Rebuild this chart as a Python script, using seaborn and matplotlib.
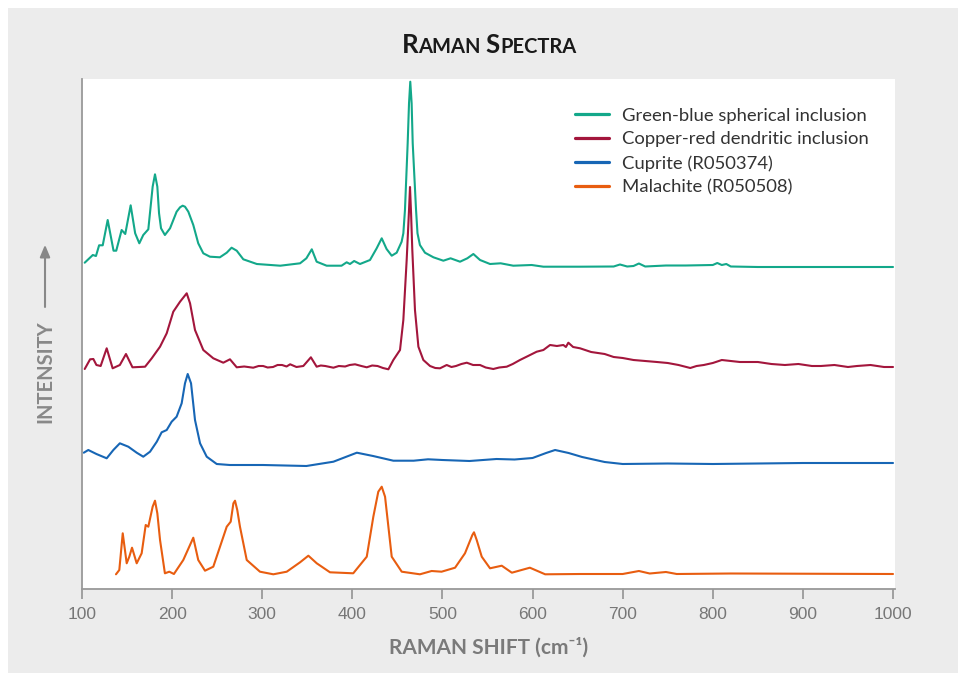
import matplotlib
matplotlib.use("Agg")
import numpy as np
import pandas as pd
import matplotlib.pyplot as plt
import seaborn as sns
from matplotlib.lines import Line2D
from matplotlib.patches import Rectangle
from matplotlib.offsetbox import TextArea, HPacker, AnchoredOffsetbox

# ---------- data ----------
labels = ["Green-blue spherical inclusion", "Copper-red dendritic inclusion",
          "Cuprite (R050374)", "Malachite (R050508)"]
colors = ["#13a88a", "#a3163c", "#1766b5", "#e85d10"]
offsets = [320, 220, 125, 15]   # vertical stacking of the spectra

green_shift = [103, 112, 115.5, 119, 123, 128.5, 135, 138, 144, 148, 154, 159, 163.6, 168,
               173.6, 178.4, 181, 183.6, 185.5, 187.7, 192, 197.7, 205, 208.8, 211.7, 214.3,
               218, 223.5, 229, 234.6, 242, 253,
               260.6, 266, 271.7, 279, 294, 320, 342, 349, 355, 360.4, 371.5, 388, 393.7,
               397.4, 402, 408.5, 419.6, 427, 432.6, 438, 443.7, 449.2, 454.7, 456.6, 458.4,
               461.4, 462.9, 464.3, 465.8, 467, 470.7, 472.3, 475, 480.6, 490, 501, 509,
               519.5, 527.6, 534.3, 541.7,
               552.8, 564.6, 578.6, 599, 612, 652.6, 690, 697, 705, 712, 718, 725, 748, 770,
               800, 805, 810, 815, 820, 850, 1000]
green_int = [6.3, 14, 13, 23.7, 23.7, 49, 18.3, 18.3, 39, 35, 63.7, 35.7, 25.7, 34,
             39.7, 82.3, 94.7, 82.3, 55.7, 40.7, 34, 40.7, 57.3, 61.7, 63.3, 62.3,
             57.3, 44, 25.7, 15.7, 12.3, 11.7,
             16.3, 21.3, 18.3, 9.7, 5, 3.3, 5.7, 10.7, 19.7, 7.3, 3.3, 3.3, 6.7,
             5, 8, 5, 9, 20.7, 30.7, 20, 13.3, 16.3, 27.3, 35.7, 59,
             125.7, 165.7, 187.3, 165.7, 125.7, 59, 35.7, 24, 16.3, 11.7, 8.3, 10.7,
             7.3, 10.7, 15, 9,
             5, 5.7, 3.3, 4, 2.3, 2.3, 2.5, 4.5, 2.5, 3, 5.5, 2.5, 3.5, 3.5,
             4, 6, 4, 5, 2.5, 2, 2]

red_shift = [103, 109, 112.6, 116, 120.7, 127.4, 134, 142, 148.8, 156, 170, 177.4, 186.6,
             194, 201.3, 208.8, 216.2, 219.9, 225.4, 234.6, 245.7, 256.8, 264.2, 271.7, 280,
             290, 296, 301, 306, 312, 317, 322, 327, 331, 338, 345.6, 354, 360.4, 365, 370,
             379, 385, 392, 397, 403, 410, 416, 422, 428, 434, 440,
             445.5, 452.9, 456.6, 460.3, 462.9, 464, 465.2, 466.5, 469.5, 473.3, 478.8,
             486.2, 492, 497.3, 504.7, 510, 515, 521, 527, 534, 541.7, 548, 556.4, 563,
             571.3, 578, 586, 595, 604.6, 612, 619.4, 627, 634.2, 637, 639.7, 645, 652.7,
             665, 680, 690, 700, 712, 725, 738, 750, 762, 775, 782, 790, 800, 810, 820, 830,
             840, 850, 865, 880, 895, 910, 920, 935, 950, 960, 975, 990, 1000]
red_int = [0, 9.7, 10, 4, 3, 20.7, 0.7, 4, 15, 1.7, 2.3, 10.7, 22.3,
           35.7, 57.3, 67.3, 75.7, 65.7, 39, 19, 10.7, 6.3, 9.7, 1.7, 2.5,
           1.3, 3, 3, 1.5, 2, 4, 4, 2.5, 4.7, 2, 3, 11.7, 2.3, 3.5, 3,
           1.3, 3, 2.5, 4, 4.7, 3, 1.7, 3.5, 3, 1, -0.3,
           9, 19, 49, 109, 159, 182, 155, 120, 59, 22.3, 9,
           3, 1, 0.7, 4, 2, 3, 5, 6.3, 4, 4, 1.5, 0, 1.5,
           2.3, 5, 9, 13, 17.3, 19, 24, 23, 24, 22, 26.3, 22, 20.7,
           17, 15, 12, 11, 9, 8, 7, 6, 4, 1, 3, 4, 6, 9, 8, 7,
           7, 7, 5, 4, 5, 3, 3, 4, 2, 3, 4, 2, 2]

blue_shift = [102, 107, 116, 127.4, 134.8, 142, 151.4, 160.7, 168, 175.5, 183, 188.4, 194,
              199.5, 205, 210.6, 214.3, 217.3, 221, 225.4, 231, 238.4, 249.5, 264, 301, 349,
              379, 405, 423, 445.5, 468, 484, 500, 530, 560, 580, 600, 615, 625, 640, 655,
              680, 700, 750, 800, 850, 900, 1000]
blue_int = [11.3, 14, 10, 5.7, 14, 20.7, 17.3, 11.3, 7.3, 12.3, 22.3, 31.7, 34,
            42.3, 47.3, 60.7, 80.7, 90, 80.7, 44, 20.7, 7.3, 0, -1, -1, -2,
            2.3, 11.3, 8, 3.3, 3.3, 4.7, 4, 3, 5, 4.5, 6, 11, 14, 11, 7,
            2, 0, 0.5, 0, 0.5, 1, 1]

orange_shift = [137.7, 141.4, 145.2, 149.6, 152.5, 155.5, 160.7, 166.2, 170.7, 173.6, 178.4,
                181, 183.6, 186.6, 192, 196.9, 202, 212.4, 223.5, 229, 236.5, 245.7, 260.6,
                265, 268, 269.8, 272.3, 275.3, 282.8, 297.5, 312.3, 327.2, 342, 351.2, 360.5,
                375.2, 401, 416, 423.3, 428.8, 432.6, 436.3, 440, 443.7, 454.8, 475, 488, 499,
                514, 525, 533.2, 535, 538, 543.6, 552.8,
                565.8, 577, 597, 614, 653, 700, 718, 730, 748, 760, 820, 1000]
orange_int = [-0.3, 4, 40.7, 10.7, 17.3, 26.3, 10.7, 20.7, 49, 47.3, 67.3,
              73.3, 60.7, 34, 0.7, 2.3, 0, 14, 36.3, 14, 3.3, 7.3, 47.3,
              52.3, 70.7, 73.3, 64, 47.3, 14, 2.3, -0.3, 2.3, 11.7, 18.3, 10.7,
              1.7, 0.7, 17.3, 57.3, 82.3, 87.3, 77.3, 47.3, 17.3, 2.3, -0.3, 3, 2.3,
              6.3, 20.7, 39, 41.7, 34, 17.3, 5.7,
              8.3, 1.3, 6.3, -0.3, 0, 0, 3, 0.5, 2, 0, 0.5, 0]

shifts = [green_shift, red_shift, blue_shift, orange_shift]
intensities = [green_int, red_int, blue_int, orange_int]

frames = []
for lab, sh, it, off in zip(labels, shifts, intensities, offsets):
    frames.append(pd.DataFrame({"sample": lab, "shift": sh,
                                "intensity": np.array(it) + off}))
df = pd.concat(frames, ignore_index=True)

# ---------- plot ----------
sns.set_theme(style="white")
plt.rcParams["font.family"] = ["Lato", "DejaVu Sans"]

fig = plt.figure(figsize=(9.58, 6.73), dpi=100)
fig.patches.append(Rectangle((8 / 958, 0), 1, 1 - 8 / 673, transform=fig.transFigure,
                             facecolor="#ececec", edgecolor="none", zorder=-10))
ax = fig.add_axes([82 / 958, 1 - 589 / 673, (895 - 82) / 958, (589 - 79) / 673])
ax.set_facecolor("white")

sns.lineplot(data=df, x="shift", y="intensity", hue="sample", palette=dict(zip(labels, colors)),
             estimator=None, sort=False, linewidth=1.5, legend=False, ax=ax)

ax.set_xlim(100, 1002.2)
ax.set_ylim(0, 510)
ax.set_xticks(range(100, 1001, 100))
ax.set_yticks([])
for s in ["top", "right"]:
    ax.spines[s].set_visible(False)
for s in ["left", "bottom"]:
    ax.spines[s].set_color("#999999")
    ax.spines[s].set_linewidth(1.3)
ax.tick_params(axis="x", direction="out", length=7, width=1.3, color="#999999",
               labelcolor="#777777", labelsize=12.5, pad=6, bottom=True)
for t in ax.get_xticklabels():
    t.set_fontfamily("Liberation Sans")

ax.set_xlabel("RAMAN SHIFT (cm⁻¹)", fontsize=15, fontweight="bold", color="#7a7a7a",
              labelpad=11)
ax.set_ylabel("")
ax.text(-0.0455, 0.427, "INTENSITY", transform=ax.transAxes, rotation=90, ha="center",
        va="center", fontsize=14.5, fontweight="bold", color="#888888")
ax.annotate("", xy=(-0.0455, 0.675), xytext=(-0.0455, 0.553), xycoords="axes fraction",
            textcoords="axes fraction", annotation_clip=False,
            arrowprops=dict(arrowstyle="-|>,head_length=0.6,head_width=0.25", color="#888888",
                            lw=1.5, shrinkA=0, shrinkB=0))

handles = [Line2D([], [], color=c, lw=2.3) for c in colors]
leg = ax.legend(handles, labels, loc="upper right", bbox_to_anchor=(0.968, 0.944),
                frameon=False, fontsize=13.3, handlelength=1.85, handletextpad=0.7,
                labelspacing=0.42, borderpad=0, borderaxespad=0)
for t in leg.get_texts():
    t.set_color("#333333")

# title in small caps
def part(s, size):
    return TextArea(s, textprops=dict(fontsize=size, fontweight="bold", color="#1a1a1a"))

title = HPacker(children=[part("R", 18.5), part("AMAN ", 14.5), part("S", 18.5),
                          part("PECTRA", 14.5)], align="baseline", pad=0, sep=0)
box = AnchoredOffsetbox(loc="center", child=title, frameon=False,
                        bbox_to_anchor=(489 / 958, 1 - 45 / 673),
                        bbox_transform=fig.transFigure, borderpad=0, pad=0)
fig.artists.append(box)
box.set_figure(fig)

fig.savefig("out.png", dpi=100)
